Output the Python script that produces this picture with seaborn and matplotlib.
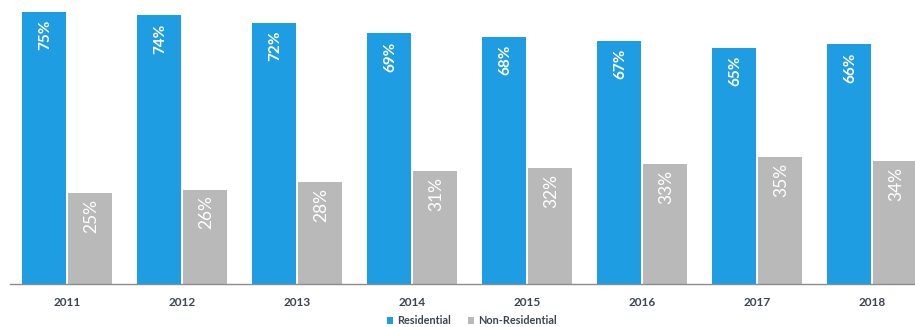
import matplotlib
matplotlib.use("Agg")
import matplotlib.pyplot as plt
import seaborn as sns
import pandas as pd
from matplotlib.patches import Patch

# Share of total by segment, per year
years = ["2011", "2012", "2013", "2014", "2015", "2016", "2017", "2018"]
residential = [75, 74, 72, 69, 68, 67, 65, 66]
non_residential = [25, 26, 28, 31, 32, 33, 35, 34]
segments = ["Residential", "Non-Residential"]

colors = {"Residential": "#1E9DE3", "Non-Residential": "#B9B9B9"}
text_dark = "#3C4550"

df = pd.DataFrame({
    "year": years * 2,
    "share": residential + non_residential,
    "segment": [segments[0]] * len(years) + [segments[1]] * len(years),
})

sns.set_theme(style="white")
plt.rcParams["font.family"] = ["Lato", "DejaVu Sans"]

W, H, DPI = 915, 327, 100
fig = plt.figure(figsize=(W / DPI, H / DPI), dpi=DPI)
# Plot area: baseline near the bottom, the last group runs off the right edge
ax = fig.add_axes([9.5 / W, 43 / H, 920 / W, 284 / H])

sns.barplot(
    data=df, x="year", y="share", hue="segment", hue_order=segments,
    palette=colors, width=0.8, gap=0.04, saturation=1, ax=ax,
    legend=False, linewidth=0,
)

ax.set_ylim(0, 78.2)
ax.set_xlim(-0.5, len(years) - 0.5)
ax.set_xlabel("")
ax.set_ylabel("")
ax.set_yticks([])

for side in ("top", "right", "left"):
    ax.spines[side].set_visible(False)
ax.spines["bottom"].set_color("#8C8C8C")
ax.spines["bottom"].set_linewidth(1.0)

# Year labels centred under each group, small ticks between groups
ax.tick_params(axis="x", which="major", length=0, pad=9, labelsize=8.5,
               labelcolor=text_dark)
for lab in ax.get_xticklabels():
    lab.set_fontweight("bold")
ax.set_xticks([i - 0.5 for i in range(len(years) + 1)], minor=True)
ax.tick_params(axis="x", which="minor", length=3, width=0.8, color="#8C8C8C",
               direction="out")

# Value labels inside the bars, reading upwards
res_bars, non_bars = ax.containers[0], ax.containers[1]
for bar, v in zip(res_bars, residential):
    ax.annotate(f"{v}%", (bar.get_x() + bar.get_width() / 2, bar.get_height()),
                xytext=(1, -8), textcoords="offset pixels",
                rotation=90, ha="center", va="top",
                color="white", fontsize=11, fontweight="bold")
for bar, v in zip(non_bars, non_residential):
    ax.annotate(f"{v}%", (bar.get_x() + bar.get_width() / 2, bar.get_height()),
                xytext=(1, -6), textcoords="offset pixels",
                rotation=90, ha="center", va="top",
                color="white", fontsize=12.5)

# Legend below the axis
handles = [Patch(facecolor=colors[s], edgecolor="none", label=s) for s in segments]
leg = fig.legend(handles=handles, loc="center", ncol=2, frameon=False,
                 bbox_to_anchor=(472 / W, 1 - 321 / H),
                 fontsize=7.8, handlelength=0.55, handleheight=0.55,
                 handletextpad=0.35, columnspacing=1.6)
for t in leg.get_texts():
    t.set_color(text_dark)
    t.set_fontweight("bold")

fig.savefig("out.png", dpi=DPI)
